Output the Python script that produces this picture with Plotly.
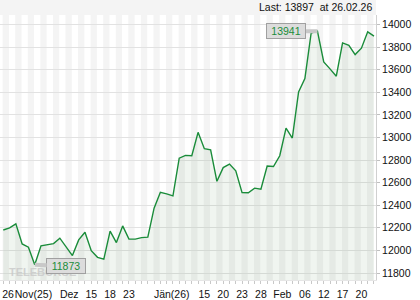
import plotly.graph_objects as go

# ---- data ----
values = [12181, 12199, 12235, 12057, 12028, 11873, 12040, 12048, 12060, 12108,
          12030, 11954, 12093, 12161, 11998, 11939, 11922, 12170, 12069, 12217,
          12100, 12100, 12113, 12117, 12374, 12514, 12500, 12483, 12817, 12841,
          12838, 13045, 12900, 12891, 12612, 12733, 12764, 12705, 12511, 12510,
          12551, 12542, 12747, 12743, 12838, 13083, 12995, 13403, 13521, 13925,
          13941, 13669, 13607, 13542, 13837, 13816, 13734, 13790, 13935, 13897]
x_idx = list(range(len(values)))

x_tick_labels = ["26", "Nov(25)", "Dez", "15", "18", "23", "Jän(26)", "15", "20",
                 "23", "28", "Feb", "06", "12", "17", "20"]
x_tick_pos = [0.75, 4.8, 10.5, 14, 17, 20, 26.8, 32, 35, 38, 41, 44.4, 48, 51, 54, 57]

y_ticks = [11800, 12000, 12200, 12400, 12600, 12800, 13000, 13200, 13400, 13600, 13800, 14000]

last_value = 13897
last_date = "26.02.26"
high_value = max(values)
low_value = min(values)

LINE = "#1a8c3a"
FONT = "Liberation Sans, Arial, sans-serif"

fig = go.Figure()
fig.add_trace(go.Scatter(
    x=x_idx, y=values, mode="lines",
    line=dict(color=LINE, width=1.4),
    fill="tozeroy", fillcolor="rgba(60,130,60,0.08)",
    hoverinfo="skip", showlegend=False,
))

# alternating column stripes
shapes = []
for i in x_idx[::2]:
    shapes.append(dict(type="rect", xref="x", yref="paper", x0=i - 0.1, x1=i + 0.9,
                       y0=0, y1=1, fillcolor="#f4f4f4", line=dict(width=0), layer="below"))
# top band
shapes.append(dict(type="rect", xref="paper", yref="paper", x0=0, x1=1, y0=1, y1=1 + 15 / 265,
                   fillcolor="#f4f4f4", line=dict(width=0), layer="below"))

hi_i = values.index(high_value)
lo_i = values.index(low_value)

annotations = [
    dict(xref="paper", yref="paper", x=0.995, y=1 + 7.5 / 265, xanchor="right", yanchor="middle",
         text=f"Last: {last_value}  at {last_date}", showarrow=False,
         font=dict(family=FONT, size=10.5, color="#111")),
    dict(xref="paper", yref="paper", x=7 / 376, y=(280 - 271.5) / 265, xanchor="left", yanchor="middle",
         text="<b>TELEBÖRSE</b>", showarrow=False,
         font=dict(family=FONT, size=11, color="rgba(200,200,200,0.8)")),
    dict(x=hi_i, y=high_value, xref="x", yref="y", ax=-31, ay=0, text=str(high_value),
         showarrow=True, arrowhead=0, arrowwidth=4, arrowcolor="#c8c8c8",
         bgcolor="#dcdcdc", bordercolor="#a0a0a0", borderwidth=1, borderpad=1,
         width=36, height=12, font=dict(family=FONT, size=10.5, color=LINE)),
    dict(x=lo_i, y=low_value, xref="x", yref="y", ax=31.5, ay=1, text=str(low_value),
         showarrow=True, arrowhead=0, arrowwidth=4, arrowcolor="#c8c8c8",
         bgcolor="#dcdcdc", bordercolor="#a0a0a0", borderwidth=1, borderpad=1,
         width=36, height=12, font=dict(family=FONT, size=10.5, color=LINE)),
]

fig.update_layout(
    width=420, height=300,
    margin=dict(l=0, r=44, t=15, b=20),
    paper_bgcolor="white", plot_bgcolor="white",
    shapes=shapes, annotations=annotations,
    font=dict(family=FONT, size=10, color="#222"),
    xaxis=dict(range=[-0.525, 59.32], tickmode="array", tickvals=x_tick_pos,
               ticktext=x_tick_labels, ticks="", showgrid=False, zeroline=False,
               tickangle=0,
               showline=True, linecolor="#e6e6e6", linewidth=1,
               minor=dict(tickmode="linear", tick0=0, dtick=1, ticks="outside",
                          ticklen=3, tickcolor="#c8c8c8", showgrid=False),
               tickfont=dict(size=10.5, color="#111"), ticklabelstandoff=4),
    yaxis=dict(range=[11738, 14084], side="right", tickmode="array", tickvals=y_ticks,
               tickformat="d",
               showgrid=True, gridcolor="#e2e2e2", gridwidth=1, zeroline=False,
               showline=True, linecolor="#d0d0d0", linewidth=1,
               ticks="outside", ticklen=3, tickcolor="#c0c0c0",
               tickfont=dict(size=10.5, color="#111")),
)

fig.write_html("out.html")
